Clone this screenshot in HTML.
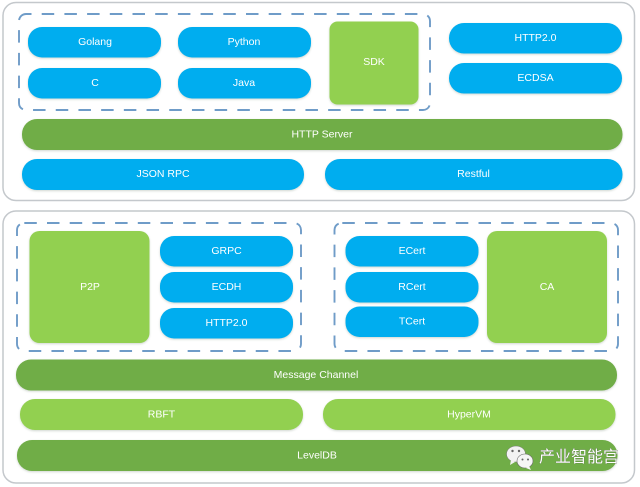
<!DOCTYPE html>
<html><head><meta charset="utf-8"><style>
html,body{margin:0;padding:0;background:#fff;width:640px;height:487px;overflow:hidden}
svg{display:block;filter:blur(.35px)}
text{font-family:"Liberation Sans","Noto Sans CJK SC",sans-serif;font-size:10.5px;fill:#fff;text-anchor:middle;dominant-baseline:central}
.s{filter:drop-shadow(0 1px 1px rgba(120,140,120,.35))}
</style></head><body>
<svg width="640" height="487" viewBox="0 0 640 487" xmlns="http://www.w3.org/2000/svg">
<rect x="3" y="2.500" width="631.500" height="198" rx="13" fill="#fff" stroke="#c4c8cc" stroke-width="1.500"/>
<rect x="3" y="211" width="631.500" height="272" rx="13" fill="#fff" stroke="#c4c8cc" stroke-width="1.500"/>
<g fill="none" stroke="#6f9cc8" stroke-width="1.900" stroke-dasharray="12.500 10.200">
<rect x="19" y="14" width="411" height="96" rx="7" stroke-dashoffset="7"/>
<rect x="17" y="223" width="284" height="128" rx="7" stroke-dashoffset="-.3"/>
<rect x="334.500" y="223" width="283.500" height="128" rx="7" stroke-dashoffset="-.8"/>
</g>
<g class="s" fill="#00adef">
<rect x="28" y="27" width="133" height="30.500" rx="14"/>
<rect x="178" y="27" width="133" height="30.500" rx="14"/>
<rect x="28" y="68" width="133" height="30.500" rx="14"/>
<rect x="178" y="68" width="133" height="30.500" rx="14"/>
<rect x="449" y="23" width="173" height="30.500" rx="15"/>
<rect x="449" y="63" width="173" height="30.500" rx="15"/>
<rect x="22" y="159" width="282" height="31" rx="15"/>
<rect x="325" y="159" width="297.500" height="31" rx="15"/>
<rect x="160" y="236" width="133" height="30.500" rx="14"/>
<rect x="160" y="272" width="133" height="30.500" rx="14"/>
<rect x="160" y="308" width="133" height="30.500" rx="14"/>
<rect x="345.500" y="236" width="133" height="30.500" rx="14"/>
<rect x="345.500" y="272" width="133" height="30.500" rx="14"/>
<rect x="345.500" y="306.500" width="133" height="30.500" rx="14"/>
</g>
<g class="s" fill="#92d050">
<rect x="329.500" y="21.500" width="89" height="83" rx="8"/>
<rect x="29.500" y="231" width="120" height="112" rx="10"/>
<rect x="487" y="231" width="120" height="112" rx="10"/>
<rect x="20" y="399" width="283" height="31" rx="15"/>
<rect x="323" y="399" width="292.500" height="31" rx="15"/>
</g>
<g class="s" fill="#70ad47">
<rect x="22" y="119" width="600.500" height="31" rx="15"/>
<rect x="16" y="359.500" width="601" height="31" rx="15"/>
<rect x="17" y="440" width="600.500" height="31" rx="15"/>
</g>
<text x="95" y="42">Golang</text>
<text x="244" y="42">Python</text>
<text x="95" y="83">C</text>
<text x="244" y="83">Java</text>
<text x="374" y="62">SDK</text>
<text x="535.500" y="38">HTTP2.0</text>
<text x="535.500" y="78">ECDSA</text>
<text x="322" y="134.500">HTTP Server</text>
<text x="163" y="174">JSON RPC</text>
<text x="473.500" y="174">Restful</text>
<text x="90" y="287">P2P</text>
<text x="226.500" y="251">GRPC</text>
<text x="226.500" y="287">ECDH</text>
<text x="226.500" y="323">HTTP2.0</text>
<text x="412" y="251">ECert</text>
<text x="412" y="287">RCert</text>
<text x="412" y="321.500">TCert</text>
<text x="547" y="287">CA</text>
<text x="316" y="375">Message Channel</text>
<text x="161.500" y="414.500">RBFT</text>
<text x="469" y="414.500">HyperVM</text>
<text x="317" y="455.500">LevelDB</text>
<g>
<ellipse cx="516" cy="454" rx="9.500" ry="8" fill="#f2f2f2" stroke="#777" stroke-width=".5"/>
<path d="M511 460l-1 5 5-3z" fill="#f2f2f2"/>
<ellipse cx="525" cy="461" rx="8" ry="7" fill="#f6f6f6" stroke="#666" stroke-width=".6"/>
<path d="M529 466l2 4-5-2z" fill="#f6f6f6"/>
<circle cx="512.500" cy="451" r="1.200" fill="#666"/><circle cx="519" cy="451" r="1.200" fill="#666"/>
<circle cx="522.500" cy="459.500" r="1" fill="#666"/><circle cx="528" cy="459.500" r="1" fill="#666"/>
</g>
<text x="579" y="457.500" style="font-size:16px;fill:#fff;stroke:#4a4a4a;stroke-width:.35px;paint-order:stroke">产业智能宫</text>
</svg>
</body></html>
